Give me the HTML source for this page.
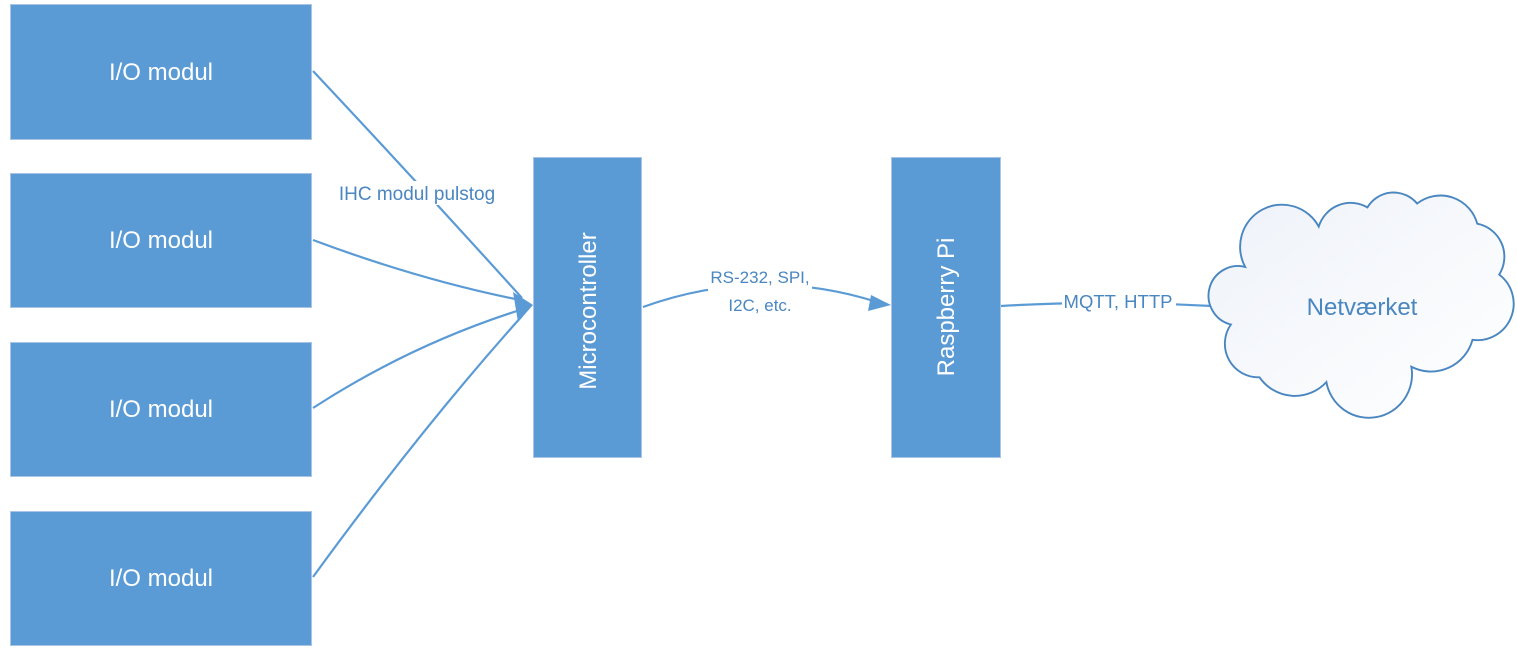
<!DOCTYPE html>
<html><head><meta charset="utf-8"><style>
html,body{margin:0;padding:0;background:#fff;}
svg{display:block;font-family:"Liberation Sans",sans-serif;}
</style></head><body>
<svg width="1517" height="660" viewBox="0 0 1517 660" xmlns="http://www.w3.org/2000/svg">
<defs>
<linearGradient id="cg" x1="0" y1="0" x2="1" y2="1"><stop offset="0" stop-color="#eef2f9"/><stop offset="1" stop-color="#ffffff"/></linearGradient>
</defs>
<g fill="#5b9bd5" stroke="#a9c4e4" stroke-width="1">
<rect x="10.5" y="4.5" width="301" height="135"/>
<rect x="10.5" y="173.5" width="301" height="134"/>
<rect x="10.5" y="342.5" width="301" height="134"/>
<rect x="10.5" y="511.5" width="301" height="134"/>
<rect x="533.5" y="157.5" width="108" height="300"/>
<rect x="891.5" y="157.5" width="109" height="300"/>
</g>
<g fill="#fff" font-size="24" text-anchor="middle">
<text x="161" y="80">I/O modul</text>
<text x="161" y="248">I/O modul</text>
<text x="161" y="417">I/O modul</text>
<text x="161" y="586">I/O modul</text>
<text transform="translate(596,311) rotate(-90)">Microcontroller</text>
<text transform="translate(954,307) rotate(-90)">Raspberry Pi</text>
</g>
<g fill="none" stroke="#5b9bd5" stroke-width="2.2">
<path d="M313,71 Q420,185 522,298"/>
<path d="M313,240 Q420,280 520,300"/>
<path d="M313,408 Q410,345 520,310"/>
<path d="M313,577 Q420,430 522,316"/>
<path d="M643,307 Q760,265 877,302"/>
<path d="M1001,306 Q1100,300 1212,306"/>
</g>
<g fill="#5b9bd5">
<polygon points="533,305 513,292 518,322"/>
<polygon points="891,305 871,295 868,311"/>
</g>
<rect x="336" y="181" width="164" height="24" fill="#fff"/>
<rect x="708" y="262" width="104" height="62" fill="#fff"/>
<rect x="1062" y="290" width="114" height="22" fill="#fff"/>
<g fill="#4a86c0" text-anchor="middle">
<text x="417" y="200" font-size="19">IHC modul pulstog</text>
<text x="760" y="283" font-size="17">RS-232, SPI,</text>
<text x="760" y="311" font-size="17">I2C, etc.</text>
<text x="1118" y="308" font-size="18.5">MQTT, HTTP</text>
</g>
<g transform="matrix(0.955,0,0,0.96,61,7.7)">
<path d="M1240,270 A42,42 0 0 1 1317,228 A35,35 0 0 1 1368,208 A32,32 0 0 1 1420,204 A40,40 0 0 1 1483,225 A35,35 0 0 1 1506,278 A38,38 0 0 1 1478,346 A45,45 0 0 1 1414,374 A40,40 0 0 1 1325,390 A45,45 0 0 1 1255,385 A35,35 0 0 1 1225,330 A30,30 0 0 1 1240,270 Z" fill="url(#cg)" stroke="#4a86c0" stroke-width="2"/>
</g>
<text x="1362" y="315" fill="#4a86c0" font-size="24" text-anchor="middle">Netværket</text>
</svg>
</body></html>
